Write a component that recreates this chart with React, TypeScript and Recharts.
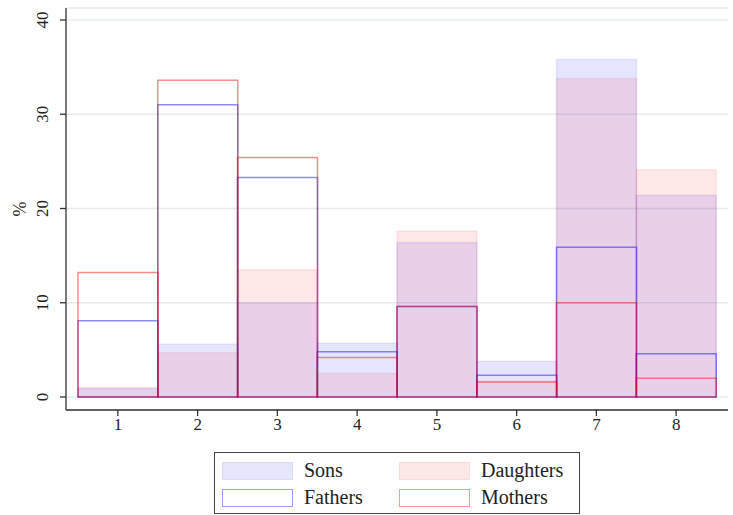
import { ComposedChart, Bar, XAxis, YAxis, CartesianGrid } from "recharts";

const categories = [1, 2, 3, 4, 5, 6, 7, 8];
const sons = [0.9, 5.6, 10.0, 5.7, 16.4, 3.8, 35.8, 21.4];
const daughters = [1.0, 4.7, 13.5, 2.5, 17.6, 1.7, 33.8, 24.1];
const fathers = [8.1, 31.0, 23.3, 4.8, 9.6, 2.3, 15.9, 4.6];
const mothers = [13.2, 33.6, 25.4, 4.2, 9.6, 1.6, 10.0, 2.0];
const yTicks = [0, 10, 20, 30, 40];

const data = categories.map((c, i) => ({
  cat: c,
  sons: sons[i],
  daughters: daughters[i],
  fathers: fathers[i],
  mothers: mothers[i],
}));

const FONT = "Liberation Serif, DejaVu Serif, Times New Roman, serif";
const BLUE = "#0000ff";
const RED = "#ff0000";

function YTick(props: any) {
  const { x, y, payload } = props;
  const cx = x - 15;
  return (
    <text
      x={cx}
      y={y}
      transform={`rotate(-90, ${cx}, ${y})`}
      textAnchor="middle"
      dominantBaseline="central"
      style={{ fontFamily: FONT }}
      fontSize={17}
      fill="#222"
    >
      {payload.value}
    </text>
  );
}

function XTick(props: any) {
  const { x, y, payload } = props;
  return (
    <text
      x={x}
      y={y + 12}
      textAnchor="middle"
      style={{ fontFamily: FONT }}
      fontSize={17}
      fill="#222"
    >
      {payload.value}
    </text>
  );
}

function Swatch({ fill, stroke }: { fill: string; stroke: string }) {
  return (
    <div
      style={{
        width: 69,
        height: 16,
        background: fill,
        border: `1.5px solid ${stroke}`,
        boxSizing: "content-box",
      }}
    />
  );
}

const legendItems = [
  { label: "Sons", fill: "#e6e6fc", stroke: "#dcdcf8", left: 222, top: 461 },
  { label: "Daughters", fill: "#fde8e8", stroke: "#fbdcdc", left: 399, top: 461 },
  { label: "Fathers", fill: "#ffffff", stroke: "#9a9aff", left: 222, top: 488 },
  { label: "Mothers", fill: "#ffffff", stroke: "#ff9a9a", left: 399, top: 488 },
];

export default function App() {
  const axisProps = {
    dataKey: "cat",
    type: "category" as const,
    padding: { left: 12, right: 12 },
  };
  return (
    <div
      style={{
        position: "absolute",
        left: 0,
        top: 0,
        width: 733,
        height: 515,
        background: "#fff",
        fontFamily: FONT,
      }}
    >
      <ComposedChart
        width={733}
        height={515}
        data={data}
        margin={{ top: 8, right: 5, left: 0, bottom: 0 }}
        barCategoryGap={0}
        barGap={0}
      >
        <CartesianGrid horizontal vertical={false} stroke="#e6ecee" strokeWidth={1.5} />
        <YAxis
          width={66}
          domain={[-1.38, 41.27]}
          allowDataOverflow
          ticks={yTicks}
          tickSize={6}
          tick={<YTick />}
          axisLine={{ stroke: "#333", strokeWidth: 1.3 }}
          tickLine={{ stroke: "#333", strokeWidth: 1.3 }}
          label={{
            value: "%",
            angle: -90,
            position: "insideLeft",
            offset: 20,
            style: { fontFamily: FONT, fontSize: 18, fill: "#222", textAnchor: "middle" },
          }}
        />
        <XAxis
          {...axisProps}
          xAxisId="main"
          height={105}
          tickSize={6}
          axisLine={{ stroke: "#333", strokeWidth: 1.3 }}
          tickLine={{ stroke: "#333", strokeWidth: 1.3 }}
          tick={<XTick />}
        />
        <XAxis {...axisProps} xAxisId="b" orientation="top" height={0} hide />
        <XAxis {...axisProps} xAxisId="c" orientation="top" height={0} hide />
        <XAxis {...axisProps} xAxisId="d" orientation="top" height={0} hide />
        <Bar
          xAxisId="main"
          dataKey="sons"
          fill={BLUE}
          fillOpacity={0.1}
          stroke={BLUE}
          strokeOpacity={0.08}
          strokeWidth={1.5}
          isAnimationActive={false}
        />
        <Bar
          xAxisId="b"
          dataKey="daughters"
          fill={RED}
          fillOpacity={0.09}
          stroke={RED}
          strokeOpacity={0.07}
          strokeWidth={1.5}
          isAnimationActive={false}
        />
        <Bar
          xAxisId="c"
          dataKey="fathers"
          fill="none"
          stroke={BLUE}
          strokeOpacity={0.45}
          strokeWidth={1.5}
          isAnimationActive={false}
        />
        <Bar
          xAxisId="d"
          dataKey="mothers"
          fill="none"
          stroke={RED}
          strokeOpacity={0.45}
          strokeWidth={1.5}
          isAnimationActive={false}
        />
      </ComposedChart>
      <div
        style={{
          position: "absolute",
          left: 214,
          top: 452,
          width: 364,
          height: 60,
          border: "1px solid #444",
        }}
      />
      {legendItems.map((it) => (
        <div
          key={it.label}
          style={{
            position: "absolute",
            left: it.left,
            top: it.top,
            display: "flex",
            alignItems: "center",
            fontFamily: FONT,
            fontSize: 20,
            color: "#222",
          }}
        >
          <Swatch fill={it.fill} stroke={it.stroke} />
          <span style={{ marginLeft: 11, lineHeight: "19px" }}>{it.label}</span>
        </div>
      ))}
    </div>
  );
}
